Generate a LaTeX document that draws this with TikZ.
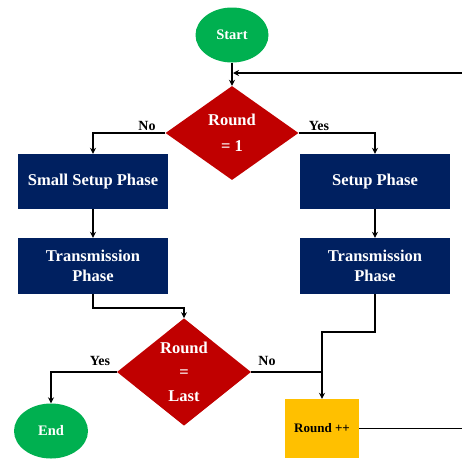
\documentclass[tikz,border=0pt]{standalone}
\usepackage{fontspec}
\setmainfont{Liberation Serif}
\usetikzlibrary{shapes.geometric,arrows.meta}
\definecolor{fgreen}{RGB}{0,176,80}
\definecolor{fblue}{RGB}{0,32,96}
\definecolor{fred}{RGB}{192,0,0}
\definecolor{fyellow}{RGB}{255,192,0}
\tikzset{
  oval/.style={ellipse, fill=fgreen, text=white, font=\fontsize{14.5}{17}\selectfont\bfseries, inner sep=0pt},
  decide/.style={diamond, fill=fred, text=white, inner sep=0pt, align=center},
  proc/.style={rectangle, fill=fblue, text=white, font=\fontsize{16.5}{20}\selectfont\bfseries, minimum width=150pt, inner sep=0pt, align=center},
  incr/.style={rectangle, fill=fyellow, text=black, font=\fontsize{13}{15}\selectfont\bfseries, minimum width=74pt, minimum height=59pt, inner sep=0pt},
  conn/.style={line width=1.5pt, -{Stealth[length=6pt,width=6pt]}},
  link/.style={line width=1.5pt},
  lbl/.style={font=\fontsize{14}{16}\selectfont\bfseries, text=black, inner sep=0pt}
}
\begin{document}
\begin{tikzpicture}[x=1pt,y=-1pt]
\useasboundingbox (0,0) rectangle (462,458);
\node[oval, minimum width=73pt, minimum height=55pt] (start) at (232,35) {Start};
\node[decide, minimum width=133pt, minimum height=94pt, font=\fontsize{16.5}{26}\selectfont\bfseries] (d1) at (232,133) {Round\\= 1};
\node[proc, minimum height=55pt] (ssp) at (93,181.5) {\raisebox{-2pt}{Small Setup Phase}};
\node[proc, minimum height=55pt] (sp) at (375,181.5) {\raisebox{-2pt}{Setup Phase}};
\node[proc, minimum height=56pt] (tp1) at (93,266) {Transmission\\Phase};
\node[proc, minimum height=56pt] (tp2) at (375,266) {Transmission\\Phase};
\node[decide, minimum width=134pt, minimum height=95pt, font=\fontsize{16.5}{24}\selectfont\bfseries] (d2) at (184,372) {Round\\=\\Last};
\node[oval, minimum width=74pt, minimum height=55pt] (end) at (51,431) {End};
\node[incr, minimum height=59pt] (rnd) at (322,428.5) {Round ++};
\coordinate (loopin) at (462,73);
\coordinate (loopjoin) at (232,73);
\coordinate (loopout) at (462,428.5);
% connectors
\draw[conn] (start.south) -- (d1.north);
\draw[conn] (loopin) -- ([xshift=1pt]loopjoin);
\draw[conn] (d1.west) -| (ssp.north);
\draw[conn] (d1.east) -| (sp.north);
\draw[conn] (ssp.south) -- (tp1.north);
\draw[conn] (sp.south) -- (tp2.north);
\draw[conn] (tp1.south) |- (184,308) -- (d2.north);
\draw[conn] (d2.west) -| (end.north);
\draw[link] (d2.east) -- (322,372);
\draw[conn] (tp2.south) |- (322,332) -- (rnd.north);
\draw[link] (rnd.east) -- (loopout);
% labels
\node[lbl] (lno1) at (147,126) {No};
\node[lbl] (lyes1) at (319,126) {Yes};
\node[lbl] (lyes2) at (100,361) {Yes};
\node[lbl] (lno2) at (267,361) {No};
\end{tikzpicture}
\end{document}
